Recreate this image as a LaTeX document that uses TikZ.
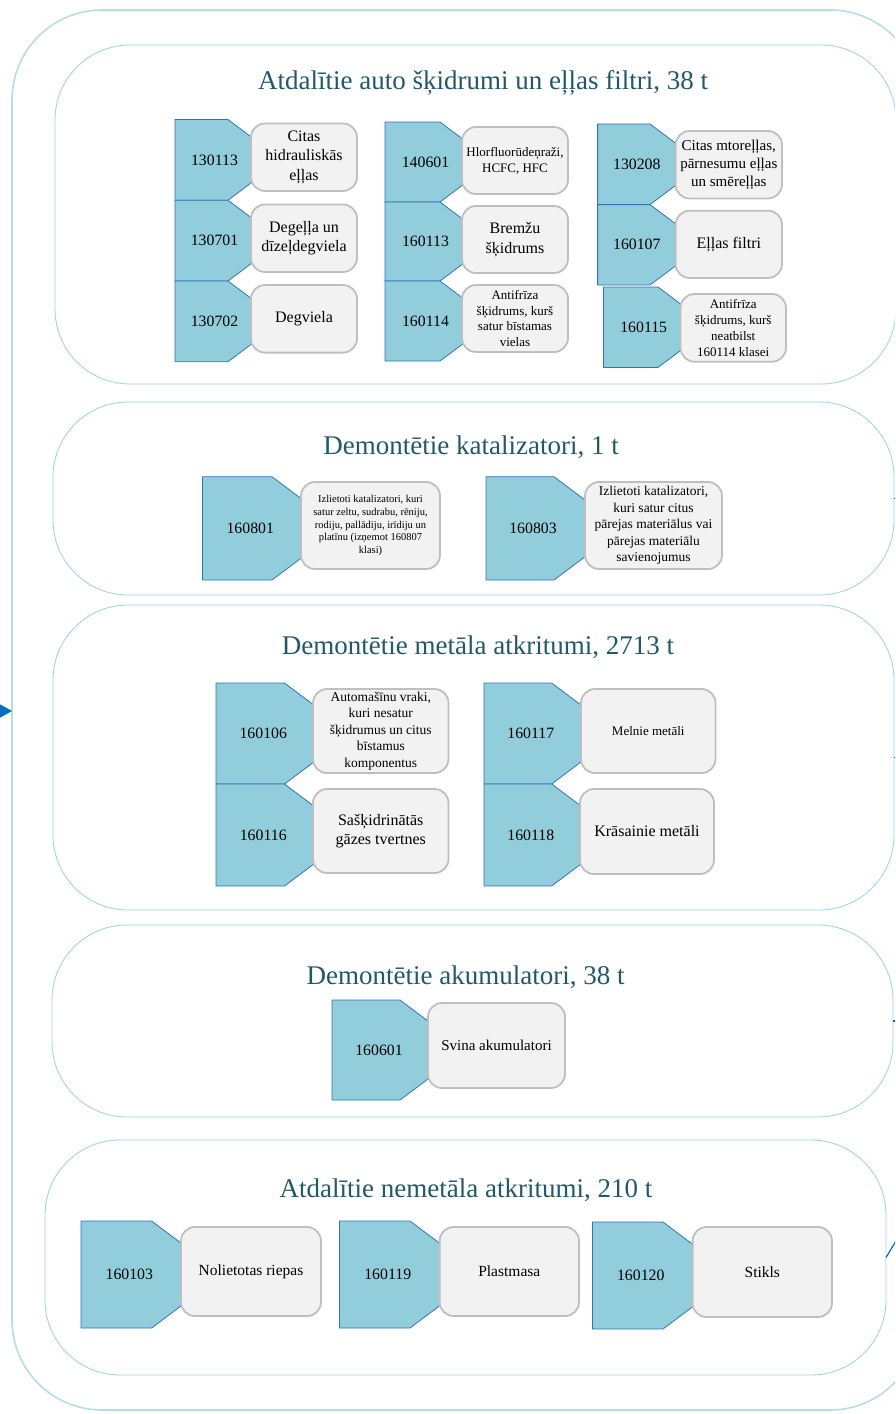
\documentclass[tikz,border=0pt]{standalone}
\usepackage{fontspec}
\setmainfont{Liberation Serif}
\usetikzlibrary{arrows.meta}

\definecolor{ringblue}{RGB}{160,213,227}
\definecolor{tagfill}{RGB}{146,205,220}
\definecolor{tagline}{RGB}{46,117,182}
\definecolor{boxfill}{RGB}{242,242,242}
\definecolor{boxline}{RGB}{191,191,191}
\definecolor{headteal}{RGB}{33,89,104}
\definecolor{linkblue}{RGB}{0,112,192}

\tikzset{
	outerring/.style={draw=ringblue!80, line width=1.6pt, rounded corners=90pt, inner sep=0pt, outer sep=0pt},
	groupring/.style={draw=ringblue, line width=0.9pt, rounded corners=75pt, inner sep=0pt, outer sep=0pt},
	grouptitle/.style={text=headteal, font=\fontsize{27}{31}\selectfont},
	tagshape/.style={fill=tagfill, draw=tagline, line width=0.8pt},
	tagtext/.style={font=\fontsize{15.8}{18}\selectfont},
	descbox/.style={fill=boxfill, draw=boxline, line width=1.8pt, rounded corners=14pt, align=center, inner sep=1pt},
	link/.style={draw=linkblue, line width=1.2pt}
}

\newcommand{\codetag}[5]{%
	\pgfmathsetmacro{\tagtip}{#5+(#4-#3)/1.5}%
	\pgfmathsetmacro{\tagmid}{(#3+#4)/2}%
	\pgfmathsetmacro{\tagtx}{(#2+#5)/2+13}%
	\draw[tagshape] (#2,#3) -- (#5,#3) -- (\tagtip,\tagmid) -- (#5,#4) -- (#2,#4) -- cycle;
	\node[tagtext] (c#1) at (\tagtx,\tagmid) {#1};
}
\newcommand{\descitem}[7]{%
	\pgfmathsetmacro{\boxw}{#4-#2}%
	\pgfmathsetmacro{\boxh}{#5-#3}%
	\node[descbox, minimum width=\boxw pt, minimum height=\boxh pt, font=\fontsize{#6}{\fpeval{1.22*#6}}\selectfont] (d#1) at ({(#2+#4)/2},{(#3+#5)/2}) {#7};
}

\begin{document}
\begin{tikzpicture}[x=1pt, y=-1pt]
	\useasboundingbox (0,0) rectangle (895,1414);
	\clip (0,0) rectangle (895,1414);

	\node[outerring, minimum width=908pt, minimum height=1400pt] (outer) at (466,710) {};
	\node[groupring, minimum width=841pt, minimum height=339pt] (s1) at (475.5,214.5) {};
	\node[groupring, minimum width=841pt, minimum height=193pt] (s2) at (473.5,498.5) {};
	\node[groupring, minimum width=841pt, minimum height=305pt] (s3) at (473.5,757.5) {};
	\node[groupring, minimum width=841pt, minimum height=192pt] (s4) at (472.5,1021) {};
	\node[groupring, minimum width=841pt, minimum height=235pt] (s5) at (465.5,1257.5) {};

	\coordinate (feed) at (-30,711);
	\draw[link, -{Triangle[length=12pt,width=13pt]}] (feed) -- (outer.west |- feed);
	\coordinate (out2) at (915,498.5);
	\coordinate (out3) at (915,757.5);
	\coordinate (out4) at (915,1021);
	\coordinate (out5) at (905,1226);
	\draw[link] (s2.east) -- (out2);
	\draw[link] (s3.east) -- (out3);
	\draw[link] (s4.east) -- (out4);
	\draw[link] (s5.east) -- (out5);

	% auto skidrumi
	\node[grouptitle] (t1) at (483,83) {Atdalītie auto šķidrumi un eļļas filtri, 38 t};
	\codetag{130113}{175}{119.5}{200.3}{228}
	\descitem{130113}{251}{123.5}{357}{191}{16}{Citas\\hidrauliskās\\eļļas}
	\codetag{130701}{175}{200.3}{281}{228}
	\descitem{130701}{251}{204.5}{357}{272}{16}{Degeļļa un\\dīzeļdegviela}
	\codetag{130702}{175}{281}{361.7}{228}
	\descitem{130702}{251}{285}{357}{352.6}{16}{Degviela}
	\codetag{140601}{385}{122}{202}{440}
	\descitem{140601}{462}{127}{568}{194}{13}{Hlorfluorūdeņraži,\\HCFC, HFC}
	\codetag{160113}{385}{202}{281}{440}
	\descitem{160113}{462}{206}{568}{273}{16}{Bremžu\\šķidrums}
	\codetag{160114}{385}{281}{361}{440}
	\descitem{160114}{462}{285}{568}{352}{13}{Antifrīza\\šķidrums, kurš\\satur bīstamas\\vielas}
	\codetag{130208}{597.6}{124}{204.6}{650}
	\descitem{130208}{675.6}{131}{782}{198.5}{15}{Citas mtoreļļas,\\pārnesumu eļļas\\un smēreļļas}
	\codetag{160107}{597.6}{204.6}{285}{650}
	\descitem{160107}{675.6}{210.7}{782}{278}{16}{Eļļas filtri}
	\codetag{160115}{603.4}{287}{367.4}{658}
	\descitem{160115}{680.5}{294}{786}{361.7}{13}{Antifrīza\\šķidrums, kurš\\neatbilst\\160114 klasei}

	% katalizatori
	\node[grouptitle] (t2) at (471,447) {Demontētie katalizatori, 1 t};
	\codetag{160801}{202.5}{476.7}{580}{272}
	\descitem{160801}{301}{482}{440}{569}{10.5}{Izlietoti katalizatori, kuri\\satur zeltu, sudrabu, rēniju,\\rodiju, pallādiju, irīdiju un\\platīnu (izņemot 160807\\klasi)}
	\codetag{160803}{486}{476.7}{580}{554}
	\descitem{160803}{585}{482}{722}{569}{13.5}{Izlietoti katalizatori,\\kuri satur citus\\pārejas materiālus vai\\pārejas materiālu\\savienojumus}

	% metala atkritumi
	\node[grouptitle] (t3) at (478,647) {Demontētie metāla atkritumi, 2713 t};
	\codetag{160106}{216}{683}{784}{284.5}
	\descitem{160106}{313}{689}{448.5}{773}{13.5}{Automašīnu vraki,\\kuri nesatur\\šķidrumus un citus\\bīstamus\\komponentus}
	\codetag{160116}{216}{784}{886}{284.5}
	\descitem{160116}{313}{789}{448.5}{873}{16}{Sašķidrinātās\\gāzes tvertnes}
	\codetag{160117}{484}{683}{784}{551.6}
	\descitem{160117}{581}{689}{715.5}{773}{13}{Melnie metāli}
	\codetag{160118}{484}{784}{886}{551.6}
	\descitem{160118}{580}{789}{714}{874}{16}{Krāsainie metāli}

	% akumulatori
	\node[grouptitle] (t4) at (465.5,977) {Demontētie akumulatori, 38 t};
	\codetag{160601}{332}{1000}{1100}{400}
	\descitem{160601}{428}{1003}{565}{1088}{15}{Svina akumulatori}

	% nemetala atkritumi
	\node[grouptitle] (t5) at (466,1190) {Atdalītie nemetāla atkritumi, 210 t};
	\codetag{160103}{81}{1221}{1328}{151.6}
	\descitem{160103}{181}{1227}{321}{1316}{15.5}{Nolietotas riepas}
	\codetag{160119}{339.5}{1221}{1328}{410}
	\descitem{160119}{439.6}{1227}{579}{1316}{15.5}{Plastmasa}
	\codetag{160120}{592.5}{1222}{1329}{663}
	\descitem{160120}{692.6}{1227}{832}{1317}{15.5}{Stikls}
\end{tikzpicture}
\end{document}
